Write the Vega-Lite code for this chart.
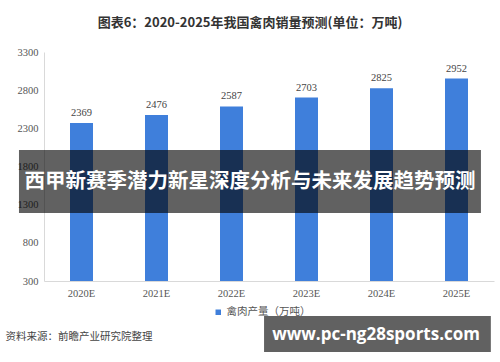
{
  "$schema": "https://vega.github.io/schema/vega-lite/v6.json",
  "width": 450,
  "height": 229,
  "autosize": {"type": "none"},
  "padding": {"left": 44, "top": 52, "right": 6, "bottom": 81},
  "background": "white",
  "title": {
    "text": "图表6：2020-2025年我国禽肉销量预测(单位：万吨)",
    "font": "Noto Sans CJK SC",
    "fontSize": 13,
    "fontWeight": "bold",
    "color": "#333333",
    "anchor": "middle",
    "offset": 17,
    "dx": -19
  },
  "config": {"view": {"stroke": null}},
  "resolve": {"scale": {"x": "independent", "y": "independent"}, "axis": {"x": "independent", "y": "independent"}},
  "layer": [
    {
      "data": {
        "values": [
          {"year": "2020E", "value": 2369, "series": "禽肉产量（万吨）"},
          {"year": "2021E", "value": 2476, "series": "禽肉产量（万吨）"},
          {"year": "2022E", "value": 2587, "series": "禽肉产量（万吨）"},
          {"year": "2023E", "value": 2703, "series": "禽肉产量（万吨）"},
          {"year": "2024E", "value": 2825, "series": "禽肉产量（万吨）"},
          {"year": "2025E", "value": 2952, "series": "禽肉产量（万吨）"}
        ]
      },
      "encoding": {
        "x": {
          "field": "year",
          "type": "nominal",
          "sort": null,
          "scale": {"paddingInner": 0, "paddingOuter": 0},
          "axis": {
            "title": "资料来源：前瞻产业研究院整理",
            "titleFont": "Noto Sans CJK SC",
            "titleFontSize": 10.5,
            "titleFontWeight": "normal",
            "titleColor": "#444444",
            "titleAnchor": "start",
            "titleAlign": "left",
            "titleBaseline": "middle",
            "titleX": -39,
            "titleY": 55,
            "labelAngle": 0,
            "labelFont": "Liberation Serif",
            "labelFontSize": 10.5,
            "labelColor": "#555555",
            "labelPadding": 7,
            "ticks": false,
            "domainColor": "#d9d9d9",
            "grid": false
          }
        },
        "y": {
          "field": "value",
          "type": "quantitative",
          "scale": {"domain": [300, 3300], "zero": false, "nice": false, "clamp": true},
          "axis": {
            "title": null,
            "values": [300, 800, 1300, 1800, 2300, 2800, 3300],
            "format": "d",
            "labelOverlap": false,
            "labelFont": "Liberation Serif",
            "labelFontSize": 10.5,
            "labelColor": "#555555",
            "labelPadding": 6,
            "ticks": false,
            "grid": false,
            "domainColor": "#d9d9d9"
          }
        }
      },
      "layer": [
        {
          "mark": {"type": "bar", "size": 23},
          "encoding": {
            "color": {
              "field": "series",
              "type": "nominal",
              "scale": {"range": ["#3F7FDB"]},
              "legend": {
                "title": null,
                "orient": "none",
                "legendX": 169,
                "legendY": 255,
                "symbolType": "square",
                "symbolSize": 30,
                "symbolStrokeWidth": 0,
                "labelFont": "Noto Sans CJK SC",
                "labelFontSize": 10.5,
                "labelColor": "#555555",
                "labelOffset": 3
              }
            }
          }
        },
        {
          "mark": {"type": "text", "baseline": "bottom", "dy": -5, "font": "Liberation Serif", "fontSize": 10.5, "color": "#444444"},
          "encoding": {"text": {"field": "value", "type": "quantitative", "format": "d"}}
        }
      ]
    },
    {
      "data": {"values": [{"caption": "西甲新赛季潜力新星深度分析与未来发展趋势预测", "site": "www.pc-ng28sports.com"}]},
      "layer": [
        {
          "mark": {"type": "rect", "color": "#000000", "opacity": 0.62},
          "encoding": {
            "x": {"datum": -0.0556, "type": "quantitative", "scale": {"domain": [0, 1], "nice": false, "zero": false}, "axis": null},
            "x2": {"datum": 0.971},
            "y": {"datum": 0.572, "type": "quantitative", "scale": {"domain": [0, 1], "nice": false, "zero": false}, "axis": null},
            "y2": {"datum": 0.297}
          }
        },
        {
          "mark": {"type": "text", "font": "Noto Sans CJK SC", "fontWeight": "bold", "fontSize": 20.5, "color": "white", "align": "center", "baseline": "middle"},
          "encoding": {
            "x": {"datum": 0.458, "type": "quantitative", "axis": null},
            "y": {"datum": 0.432, "type": "quantitative", "axis": null},
            "text": {"field": "caption"}
          }
        },
        {
          "mark": {"type": "rect", "color": "#000000", "opacity": 0.62},
          "encoding": {
            "x": {"datum": 0.489, "type": "quantitative", "axis": null},
            "x2": {"datum": 0.993},
            "y": {"datum": -0.153, "type": "quantitative", "axis": null},
            "y2": {"datum": -0.31}
          }
        },
        {
          "mark": {"type": "text", "font": "Open Sans", "fontWeight": "bold", "fontSize": 17, "color": "white", "align": "center", "baseline": "middle"},
          "encoding": {
            "x": {"datum": 0.738, "type": "quantitative", "axis": null},
            "y": {"datum": -0.236, "type": "quantitative", "axis": null},
            "text": {"field": "site"}
          }
        }
      ]
    }
  ]
}
